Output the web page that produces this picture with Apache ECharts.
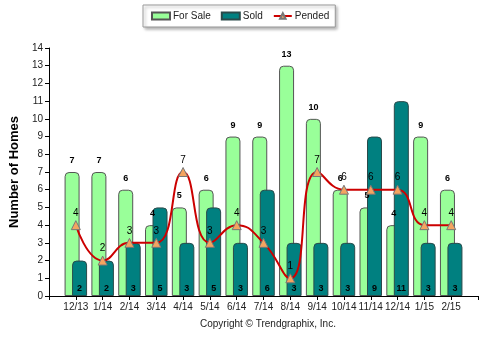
<!DOCTYPE html>
<html><head><meta charset="utf-8">
<script src="https://cdn.jsdelivr.net/npm/echarts@6/dist/echarts.min.js"></script>
<style>html,body{margin:0;padding:0;background:#fff}#c{width:485px;height:338px}</style>
</head><body><div id="c"></div>
<script>
var categories = ['12/13','1/14','2/14','3/14','4/14','5/14','6/14','7/14','8/14','9/14','10/14','11/14','12/14','1/15','2/15'];
var forSale = [7,7,6,4,5,6,9,9,13,10,6,5,4,9,6];
var sold = [2,2,3,5,3,5,3,6,3,3,3,9,11,3,3];
var pended = [4,2,3,3,7,3,4,3,1,7,6,6,6,4,4];
var yTicks = [0,1,2,3,4,5,6,7,8,9,10,11,12,13,14];

function pad(a, e){ return [e].concat(a).concat([e]); }
var chart = echarts.init(document.getElementById('c'));
var font = 'Liberation Sans, Arial, sans-serif';
chart.setOption({
  animation:false,
  textStyle:{fontFamily:font},
  legend:{
    left:143, top:5, itemGap:10, itemWidth:18, itemHeight:7,
    borderColor:'#999', borderWidth:1, padding:[6,6,6,8],
    shadowColor:'rgba(0,0,0,0.3)', shadowBlur:3, shadowOffsetX:2, shadowOffsetY:2,
    backgroundColor:'#fff',
    textStyle:{fontSize:10,color:'#222',fontFamily:font,padding:[0,0,0,-2]},
    data:[{name:'For Sale',icon:'rect'},{name:'Sold',icon:'rect'},{name:'Pended'}]
  },
  grid:{left:44,right:7,top:48,bottom:42},
  xAxis:{
    type:'category', boundaryGap:false, data:pad(categories,''),
    axisLine:{lineStyle:{color:'#000'}},
    axisTick:{length:4,interval:0,lineStyle:{color:'#000'}},
    axisLabel:{fontSize:10,color:'#222',margin:6,interval:0}
  },
  yAxis:{
    type:'value', min:yTicks[0], max:yTicks[yTicks.length-1], interval:1,
    name:'Number of Homes', nameLocation:'middle', nameGap:26,
    nameTextStyle:{fontSize:13,fontWeight:'bold',color:'#000'},
    axisLine:{show:true,lineStyle:{color:'#000'}},
    axisTick:{show:true,length:4,lineStyle:{color:'#000'}},
    splitLine:{show:false},
    axisLabel:{fontSize:10,color:'#222',margin:6}
  },
  series:[
    {name:'For Sale', type:'bar', data:pad(forSale,'-'), barWidth:15, barGap:'-50%',
     itemStyle:{color:'#99FF99',borderColor:'#555',borderWidth:1,borderRadius:[4,4,0,0]},
     labelLayout:{hideOverlap:false},
     label:{show:true,position:'top',distance:7,fontSize:9,fontWeight:'bold',color:'#000'}},
    {name:'Sold', type:'bar', data:pad(sold,'-'), barWidth:15,
     itemStyle:{color:'#008080',borderColor:'#2a4a4a',borderWidth:1,borderRadius:[4,4,0,0]},
     label:{show:true,position:'insideBottom',distance:3,fontSize:9,fontWeight:'bold',color:'#000'}},
    {name:'Pended', type:'line', data:pad(pended,'-'), smooth:0.5,
     symbol:'triangle', symbolSize:9,
     lineStyle:{color:'#CC0000',width:2},
     itemStyle:{color:'#F4A460',borderColor:'#777',borderWidth:1},
     label:{show:true,position:'top',distance:2,fontSize:10,color:'#000'}}
  ],
  graphic:[{type:'text',left:200,top:319,style:{text:'Copyright \u00A9 Trendgraphix, Inc.',fontSize:10,fill:'#222',fontFamily:font}}]
});
</script></body></html>
